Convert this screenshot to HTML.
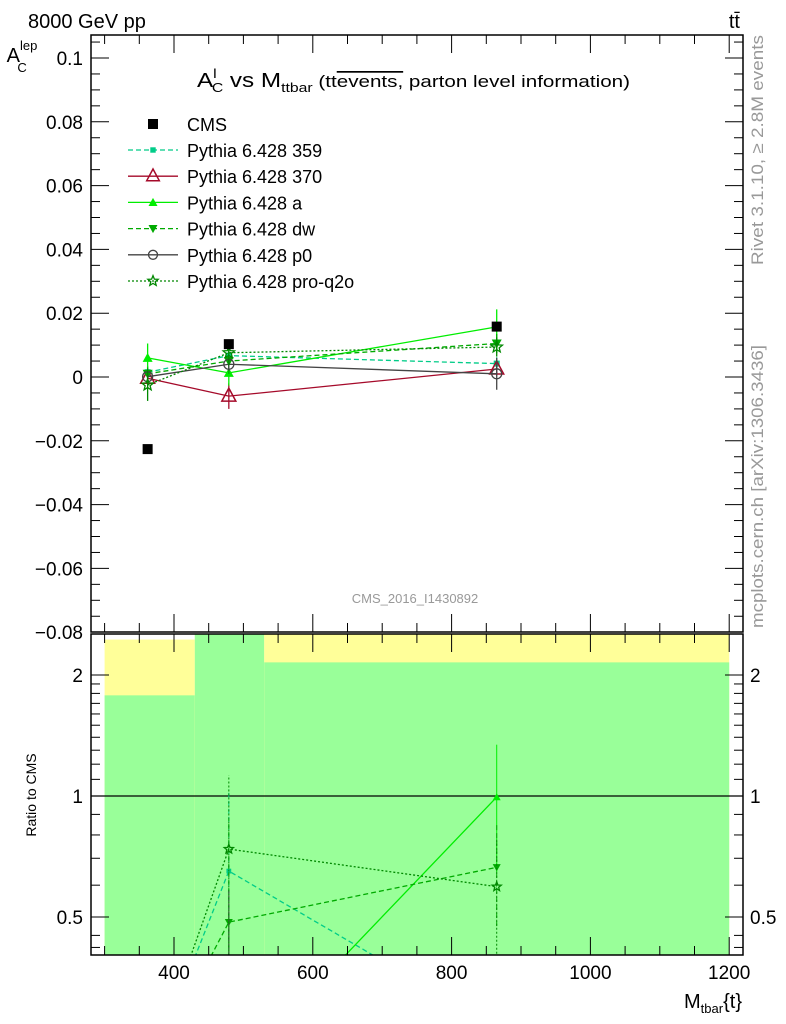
<!DOCTYPE html>
<html><head><meta charset="utf-8"><style>
html,body{margin:0;background:#fff;overflow:hidden;width:786px;height:1024px;}
svg{display:block;font-family:"Liberation Sans","DejaVu Sans",sans-serif;}
</style></head><body>
<svg id="c" width="786" height="1024" viewBox="0 0 786 1024" xmlns="http://www.w3.org/2000/svg">
<defs>
<clipPath id="mainClip"><rect x="91" y="35" width="652" height="597"/></clipPath>
<clipPath id="ratioClip"><rect x="91" y="634" width="652" height="321"/></clipPath>
</defs>
<g id="bands" clip-path="url(#ratioClip)"></g>
<g id="ratio" clip-path="url(#ratioClip)"></g>
<g id="main" clip-path="url(#mainClip)"></g>
<g id="axes"></g>
<text x="28" y="28" font-size="20">8000 GeV pp</text>
<text x="740" y="28" font-size="20" text-anchor="end">tt&#772;</text>
<text x="197" y="87" font-size="20" textLength="433" lengthAdjust="spacingAndGlyphs">A<tspan font-size="13" dy="-9">l</tspan><tspan font-size="13" dx="-4" dy="14">C</tspan><tspan dy="-5"> vs M</tspan><tspan font-size="13" dy="5">ttbar</tspan><tspan dy="-5" font-size="17"> (tt</tspan><tspan font-size="17" text-decoration="overline">events,</tspan><tspan font-size="17"> parton level information)</tspan></text>
<text x="22" y="62" font-size="20" text-anchor="middle">A<tspan font-size="13" dy="-12">lep</tspan><tspan font-size="13" dx="-20" dy="22">C</tspan></text>
<text transform="translate(36,795) rotate(-90)" font-size="14" text-anchor="middle">Ratio to CMS</text>
<text x="742" y="1008" font-size="20" text-anchor="end">M<tspan font-size="13" dy="5">tbar</tspan><tspan dy="-5">{t}</tspan></text>
<text x="415" y="603" font-size="13" fill="#999" text-anchor="middle">CMS_2016_I1430892</text>
<text transform="translate(763,265) rotate(-90)" font-size="17" fill="#999" textLength="230" lengthAdjust="spacingAndGlyphs">Rivet 3.1.10, ≥ 2.8M events</text>
<text transform="translate(763,628) rotate(-90)" font-size="17" fill="#999" textLength="283" lengthAdjust="spacingAndGlyphs">mcplots.cern.ch [arXiv:1306.3436]</text>
<g id="legend"></g>
</svg>
<script>
const xCenters=[362,479,865];
const binEdges=[300,430,530,1200];
const cmsVals=[-0.0226,0.0103,0.0158];
const cmsErr=[0.0008,0.0008,0.0008];
const bandYellow=[2.45,2.53,2.53];
const bandGreen=[1.78,2.53,2.15];
const seriesNames=["Pythia 6.428 359","Pythia 6.428 370","Pythia 6.428 a","Pythia 6.428 dw","Pythia 6.428 p0","Pythia 6.428 pro-q2o"];
const v359=[0.0015,0.0067,0.0042];
const v370=[-0.0004,-0.006,0.0025];
const vA=[0.006,0.0013,0.0157];
const vDw=[0.001,0.005,0.0105];
const vP0=[0.0001,0.004,0.001];
const vQ2o=[-0.0025,0.0076,0.0094];
const e359=[0.002,0.004,0.002];
const e370=[0.002,0.004,0.002];
const eA=[0.0045,0.004,0.0055];
const eDw=[0.002,0.004,0.003];
const eP0=[0.002,0.002,0.005];
const eQ2o=[0.005,0.004,0.003];
const yTicksMain=[0.1,0.08,0.06,0.04,0.02,0,-0.02,-0.04,-0.06,-0.08];
const yTickLabelsMain=["0.1","0.08","0.06","0.04","0.02","0","\u22120.02","\u22120.04","\u22120.06","\u22120.08"];
const ratioTicks=[0.5,1,2];
const ratioTickLabels=["0.5","1","2"];
const xTicks=[400,600,800,1000,1200];
const xTickLabels=["400","600","800","1000","1200"];

const NS="http://www.w3.org/2000/svg";
const X0=91,X1=743;
function xs(v){return 174+(v-400)*0.694;}
function ym(v){return 377-v*3190;}
function yr(r){return 796-Math.log2(Math.max(r,0.2))*121;}
function mk(tag,attrs,parent){const e=document.createElementNS(NS,tag);for(const k in attrs)e.setAttribute(k,attrs[k]);parent.appendChild(e);return e;}
const G=id=>document.getElementById(id);

for(let i=0;i<3;i++){
  const a=xs(binEdges[i]),b=xs(binEdges[i+1]);
  const r1=mk('rect',{x:a,y:yr(bandYellow[i]),width:b-a,height:955-yr(bandYellow[i]),fill:'#ffff99'},G('bands'));
  
  
  const r2=mk('rect',{x:a,y:yr(bandGreen[i]),width:b-a,height:955-yr(bandGreen[i]),fill:'#99ff99'},G('bands'));
  
  
}
const ref=mk('line',{x1:X0,x2:X1,y1:yr(1),y2:yr(1),stroke:'#000','stroke-width':1.2},G('ratio'));



const styles=[
 {vals:v359,err:e359,color:'#00cc88',dash:'5,3',marker:'sq'},
 {vals:v370,err:e370,color:'#a50a2a',dash:'',marker:'tri-open'},
 {vals:vA,err:eA,color:'#00ee00',dash:'',marker:'tri'},
 {vals:vDw,err:eDw,color:'#00aa00',dash:'5,3',marker:'tri-down'},
 {vals:vP0,err:eP0,color:'#444444',dash:'',marker:'circ'},
 {vals:vQ2o,err:eQ2o,color:'#008800',dash:'2,2',marker:'star'}
];
function marker(type,x,y,color,parent,s){
  s=s||1;let e;
  if(type==='sq')e=mk('rect',{x:x-3*s,y:y-3*s,width:6*s,height:6*s,fill:color},parent);
  else if(type==='tri-open')e=mk('polygon',{points:`${x},${y-8*s} ${x-7*s},${y+5*s} ${x+7*s},${y+5*s}`,fill:'none',stroke:color,'stroke-width':1.5},parent);
  else if(type==='tri')e=mk('polygon',{points:`${x},${y-5*s} ${x-5*s},${y+4*s} ${x+5*s},${y+4*s}`,fill:color},parent);
  else if(type==='tri-down')e=mk('polygon',{points:`${x},${y+5*s} ${x-5*s},${y-4*s} ${x+5*s},${y-4*s}`,fill:color},parent);
  else if(type==='circ')e=mk('circle',{cx:x,cy:y,r:5*s,fill:'none',stroke:color,'stroke-width':1.3},parent);
  else if(type==='cms')e=mk('rect',{x:x-5,y:y-5,width:10,height:10,fill:'#000'},parent);
  else {let p=[];for(let k=0;k<10;k++){const r=k%2?2.6*s:6*s,a=-Math.PI/2+k*Math.PI/5;p.push((x+r*Math.cos(a))+','+(y+r*Math.sin(a)));}
    e=mk('polygon',{points:p.join(' '),fill:'none',stroke:color,'stroke-width':1.3},parent);}
  return e;
}
styles.forEach((st,si)=>{
  const pts=st.vals.map((v,i)=>xs(xCenters[i])+','+ym(v)).join(' ');
  const pl=mk('polyline',{points:pts,fill:'none',stroke:st.color,'stroke-width':1.3,'stroke-dasharray':st.dash},G('main'));
  
  
  st.vals.forEach((v,i)=>{
    const x=xs(xCenters[i]);
    const el=mk('line',{x1:x,x2:x,y1:ym(v-st.err[i]),y2:ym(v+st.err[i]),stroke:st.color,'stroke-width':1.3},G('main'));
    
    
    const m=marker(st.marker,x,ym(v),st.color,G('main'));
    
    
  });
  const rat=st.vals.map((v,i)=>v/cmsVals[i]);
  const rp=rat.map((r,i)=>xs(xCenters[i])+','+yr(r)).join(' ');
  const rl=mk('polyline',{points:rp,fill:'none',stroke:st.color,'stroke-width':1.3,'stroke-dasharray':st.dash},G('ratio'));
  
  
  rat.forEach((r,i)=>{
    if(r<=0)return;
    const x=xs(xCenters[i]);const er=st.err[i]/Math.abs(cmsVals[i]);
    const el=mk('line',{x1:x,x2:x,y1:yr(r-er),y2:yr(r+er),stroke:st.color,'stroke-width':1,'stroke-dasharray':st.dash},G('ratio'));
    
    
    const m=marker(st.marker,x,yr(r),st.color,G('ratio'),0.8);
    
    
  });
});
cmsVals.forEach((v,i)=>{
  const m=marker('cms',xs(xCenters[i]),ym(v),'#000',G('main'));
  
  
});

const ax=G('axes');
function ln(x1,y1,x2,y2,w){return mk('line',{x1,y1,x2,y2,stroke:'#000','stroke-width':w||1},ax);}
mk('rect',{x:X0,y:35,width:X1-X0,height:597,fill:'none',stroke:'#000','stroke-width':1.5},ax);
mk('rect',{x:X0,y:634,width:X1-X0,height:321,fill:'none',stroke:'#000','stroke-width':1.5},ax);
for(let v=-0.08;v<=0.1051;v+=0.005){
  const y=ym(v);if(y<35||y>632)continue;
  const maj=Math.abs(Math.round(v*1000)%20)===0;const L=maj?18:9;
  ln(X0,y,X0+L,y);ln(X1,y,X1-L,y);
}
yTicksMain.forEach((v,i)=>{
  const t=mk('text',{x:83,y:ym(v)+7,'font-size':19,'text-anchor':'end'},ax);t.textContent=yTickLabelsMain[i];
  
  
});
for(let v=300;v<=1200;v+=50){
  const x=xs(v);const maj=v%200===0;const L=maj?18:9;
  ln(x,35,x,35+L);ln(x,632,x,632-L);ln(x,634,x,634+L);ln(x,955,x,955-L);
}
xTicks.forEach((v,i)=>{
  const t=mk('text',{x:xs(v),y:979,'font-size':19,'text-anchor':'middle'},ax);t.textContent=xTickLabels[i];
  
  
});
[0.5,0.6,0.7,0.8,0.9,1,2].forEach(r=>{
  const y=yr(r);const maj=(r===0.5||r===1||r===2);const L=maj?18:9;
  ln(X0,y,X0+L,y);ln(X1,y,X1-L,y);
});
[1.1,1.2,1.3,1.4,1.5,1.6,1.7,1.8,1.9,0.45,0.42].forEach(r=>{const y=yr(r);ln(X0,y,X0+9,y);ln(X1,y,X1-9,y);});
ratioTicks.forEach((r,i)=>{
  const t=mk('text',{x:83,y:yr(r)+7,'font-size':19,'text-anchor':'end'},ax);t.textContent=ratioTickLabels[i];
  
  
  const t2=mk('text',{x:750,y:yr(r)+7,'font-size':19},ax);t2.textContent=ratioTickLabels[i];
  
  
});

const lg=G('legend');
const e0=marker('cms',153,124,'#000',lg);


const t0=mk('text',{x:187,y:131,'font-size':18},lg);t0.textContent='CMS';


styles.forEach((st,si)=>{
  const y=150+si*26.2;
  const l=mk('line',{x1:128,x2:178,y1:y,y2:y,stroke:st.color,'stroke-width':1.3,'stroke-dasharray':st.dash},lg);
  
  
  const m=marker(st.marker,153,y,st.color,lg,0.9);
  
  
  const t=mk('text',{x:187,y:y+7,'font-size':18},lg);t.textContent=seriesNames[si];
  
  
});
</script>
</body></html>
